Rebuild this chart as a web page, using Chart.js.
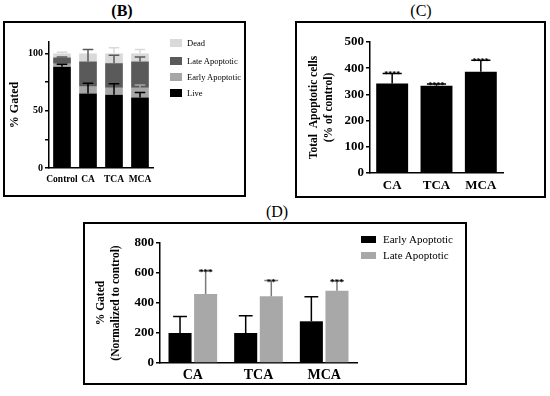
<!DOCTYPE html>
<html>
<head>
<meta charset="utf-8">
<script src="https://cdn.jsdelivr.net/npm/chart.js@4.4.0/dist/chart.umd.min.js"></script>
<style>
  body { margin: 0; background: #fff; }
  #page { position: relative; width: 550px; height: 396px; overflow: hidden; font-family: "Liberation Serif", "Times New Roman", serif; color: #000; }
  .frame { position: absolute; border: 2px solid #000; box-sizing: border-box; }
  .ttl { position: absolute; font-size: 16px; transform: translate(-50%, -50%); white-space: nowrap; }
  canvas { position: absolute; }
  .leg { position: absolute; white-space: nowrap; display: flex; align-items: center; transform: translateY(-50%); }
  .sw { display: inline-block; }
</style>
</head>
<body>
<div id="page">
  <div class="ttl" style="left:122px; top:11px; font-weight:bold;">(B)</div>
  <div class="ttl" style="left:421px; top:11px;">(C)</div>
  <div class="ttl" style="left:277px; top:212px;">(D)</div>

  <div class="frame" style="left:3px; top:21px; width:243px; height:176px;"></div>
  <div class="frame" style="left:295px; top:21px; width:251px; height:177px;"></div>
  <div class="frame" style="left:83px; top:222px; width:384px; height:163px;"></div>

  <canvas id="chartB" width="240" height="172" style="left:5px; top:23px;"></canvas>
  <canvas id="chartC" width="247" height="173" style="left:297px; top:23px;"></canvas>
  <canvas id="chartD" width="380" height="159" style="left:85px; top:224px;"></canvas>

  <div id="legendB"></div>
  <div id="legendD"></div>
</div>

<script>
// (B) stacked % gated
const stackCats = ['Control', 'CA', 'TCA', 'MCA'];
const liveVals = [88.5, 65, 64, 61.5];
const earlyVals = [2.5, 6, 6, 8.5];
const lateVals = [5.5, 22, 21.5, 23];
const deadVals = [3.5, 7, 8.5, 7];
const liveErr = [2, 9, 9.5, 4.5];
const earlyErr = [0, 0, 0, 2.5];
const lateErr = [0.5, 10.5, 7, 4];
const deadErr = [1, 0, 5, 3.5];
const stackTicks = [0, 50, 100];

// (C) total apoptotic cells
const totalCats = ['CA', 'TCA', 'MCA'];
const totalVals = [342, 333, 386];
const totalErr = [38, 7, 44];
const totalStars = ['****', '****', '****'];

// (D) normalized to control
const normCats = ['CA', 'TCA', 'MCA'];
const earlyNorm = [200, 200, 278];
const earlyNormErr = [110, 115, 164];
const lateNorm = [460, 445, 482];
const lateNormErr = [155, 105, 66];
const lateStars = ['***', '**', '***'];

const SERIF = '"Liberation Serif", "Times New Roman", serif';
const BLACK = '#000000';
const LIGHT = '#d9d9d9';
const MID = '#a6a6a6';
const DARK = '#5a5a5a';

// upper error bars (and significance stars) drawn from the y scale
const errorBars = {
  id: 'errorBars',
  afterDatasetsDraw(chart) {
    const ctx = chart.ctx;
    const yScale = chart.scales.y;
    chart.data.datasets.forEach((ds, i) => {
      if (!ds.errors) return;
      const meta = chart.getDatasetMeta(i);
      meta.data.forEach((bar, j) => {
        const err = ds.errors[j];
        if (!err) return;
        const topVal = yScale.getValueForPixel(bar.y);
        const yErr = yScale.getPixelForValue(topVal + err);
        const capW = bar.width * 0.6;
        ctx.save();
        ctx.strokeStyle = ds.errColor || ds.backgroundColor;
        ctx.lineWidth = 1.5;
        ctx.beginPath();
        ctx.moveTo(bar.x, bar.y);
        ctx.lineTo(bar.x, yErr);
        ctx.moveTo(bar.x - capW / 2, yErr);
        ctx.lineTo(bar.x + capW / 2, yErr);
        ctx.stroke();
        if (ds.stars && ds.stars[j]) {
          ctx.fillStyle = '#000';
          ctx.font = 'bold ' + (ds.starSize || 9) + 'px ' + SERIF;
          ctx.textAlign = 'center';
          ctx.textBaseline = 'alphabetic';
          ctx.fillText(ds.stars[j], bar.x, yErr + 4);
        }
        ctx.restore();
      });
    });
  }
};

function tickFont(size) {
  return { family: SERIF, size: size, weight: 'bold' };
}

Chart.defaults.font.family = SERIF;
Chart.defaults.color = '#000';

// ---- (B)
new Chart(document.getElementById('chartB'), {
  type: 'bar',
  data: {
    labels: stackCats,
    datasets: [
      { label: 'Live', data: liveVals, errors: liveErr, backgroundColor: BLACK },
      { label: 'Early Apoptotic', data: earlyVals, errors: earlyErr, backgroundColor: MID },
      { label: 'Late Apoptotic', data: lateVals, errors: lateErr, backgroundColor: DARK },
      { label: 'Dead', data: deadVals, errors: deadErr, backgroundColor: LIGHT }
    ]
  },
  options: {
    responsive: false,
    animation: false,
    layout: { padding: { left: 0, right: 92, top: 19, bottom: 0 } },
    datasets: { bar: { barPercentage: 0.68, categoryPercentage: 1 } },
    plugins: { legend: { display: false }, tooltip: { enabled: false } },
    scales: {
      x: {
        stacked: true,
        grid: { display: false, drawTicks: false },
        border: { color: '#000', width: 1.5 },
        ticks: { color: '#000', font: tickFont(9.5), padding: 6, maxRotation: 0, autoSkip: false },
        afterFit: s => { s.height = 27; }
      },
      y: {
        stacked: true,
        min: 0,
        max: 110,
        ticks: {
          stepSize: 25,
          color: '#000',
          font: tickFont(10),
          padding: 2,
          callback: v => (stackTicks.includes(v) ? v : '')
        },
        grid: {
          drawOnChartArea: false,
          tickLength: 4,
          lineWidth: 1.5,
          color: c => (c.tick && c.tick.value > 100 ? 'rgba(0,0,0,0)' : '#000')
        },
        border: { color: '#000', width: 1.5 },
        title: { display: true, text: '% Gated', color: '#000', font: tickFont(12), padding: { top: 3, bottom: 0 } },
        afterFit: s => { s.width = 44; }
      }
    }
  },
  plugins: [errorBars]
});

// ---- (C)
new Chart(document.getElementById('chartC'), {
  type: 'bar',
  data: {
    labels: totalCats,
    datasets: [
      { label: 'Total Apoptotic', data: totalVals, errors: totalErr, stars: totalStars, starSize: 8, backgroundColor: BLACK }
    ]
  },
  options: {
    responsive: false,
    animation: false,
    layout: { padding: { left: 0, right: 41, top: 19, bottom: 0 } },
    datasets: { bar: { barPercentage: 0.72, categoryPercentage: 1 } },
    plugins: { legend: { display: false }, tooltip: { enabled: false } },
    scales: {
      x: {
        grid: { display: false, drawTicks: false },
        border: { color: '#000', width: 1.5 },
        ticks: { color: '#000', font: tickFont(13), padding: 5, maxRotation: 0, autoSkip: false },
        afterFit: s => { s.height = 23; }
      },
      y: {
        min: 0,
        max: 500,
        ticks: { stepSize: 100, color: '#000', font: tickFont(13), padding: 2 },
        grid: { drawOnChartArea: false, tickLength: 4, lineWidth: 1.5, color: '#000' },
        border: { color: '#000', width: 1.5 },
        title: {
          display: true,
          text: ['Total  Apoptotic cells', '(% of control)'],
          color: '#000',
          font: { family: SERIF, size: 11.5, weight: 'bold', lineHeight: 1.3 },
          padding: { top: 9.5, bottom: 0 }
        },
        afterFit: s => { s.width = 73; }
      }
    }
  },
  plugins: [errorBars]
});

// ---- (D)
new Chart(document.getElementById('chartD'), {
  type: 'bar',
  data: {
    labels: normCats,
    datasets: [
      { label: 'Early Apoptotic', data: earlyNorm, errors: earlyNormErr, backgroundColor: BLACK },
      { label: 'Late Apoptotic', data: lateNorm, errors: lateNormErr, stars: lateStars, starSize: 9, backgroundColor: '#a8a8a8', errColor: '#7a7a7a' }
    ]
  },
  options: {
    responsive: false,
    animation: false,
    layout: { padding: { left: 0, right: 108, top: 19, bottom: 0 } },
    datasets: { bar: { barPercentage: 0.9, categoryPercentage: 0.78 } },
    plugins: { legend: { display: false }, tooltip: { enabled: false } },
    scales: {
      x: {
        grid: { display: false, drawTicks: false },
        border: { color: '#000', width: 1.5 },
        ticks: { color: '#000', font: tickFont(14), padding: 4, maxRotation: 0, autoSkip: false },
        afterFit: s => { s.height = 20; }
      },
      y: {
        min: 0,
        max: 800,
        ticks: { stepSize: 200, color: '#000', font: tickFont(13), padding: 2 },
        grid: { drawOnChartArea: false, tickLength: 4, lineWidth: 1.5, color: '#000' },
        border: { color: '#000', width: 1.5 },
        title: {
          display: true,
          text: ['% Gated', '(Normalized to control)'],
          color: '#000',
          font: { family: SERIF, size: 11.5, weight: 'bold', lineHeight: 1.3 },
          padding: { top: 9, bottom: 0 }
        },
        afterFit: s => { s.width = 75; }
      }
    }
  },
  plugins: [errorBars]
});

// legends (HTML text)
const legendBItems = [['Dead', LIGHT], ['Late Apoptotic', DARK], ['Early Apoptotic', MID], ['Live', BLACK]];
const legendBRows = [43, 61, 77, 93];
const legendDItems = [['Early Apoptotic', BLACK], ['Late Apoptotic', '#a8a8a8']];
const legendDRows = [239, 255];

function buildLegend(el, items, rows, left, swW, swH, gap, size) {
  items.forEach((it, k) => {
    const row = document.createElement('div');
    row.className = 'leg';
    row.style.left = left + 'px';
    row.style.top = rows[k] + 'px';
    row.style.fontSize = size + 'px';
    row.innerHTML = '<span class="sw" style="width:' + swW + 'px;height:' + swH + 'px;background:' + it[1] +
      ';margin-right:' + gap + 'px"></span>' + it[0];
    el.appendChild(row);
  });
}
buildLegend(document.getElementById('legendB'), legendBItems, legendBRows, 170, 12, 8, 5, 8.5);
buildLegend(document.getElementById('legendD'), legendDItems, legendDRows, 361, 15, 7, 7, 11);
</script>
</body>
</html>
